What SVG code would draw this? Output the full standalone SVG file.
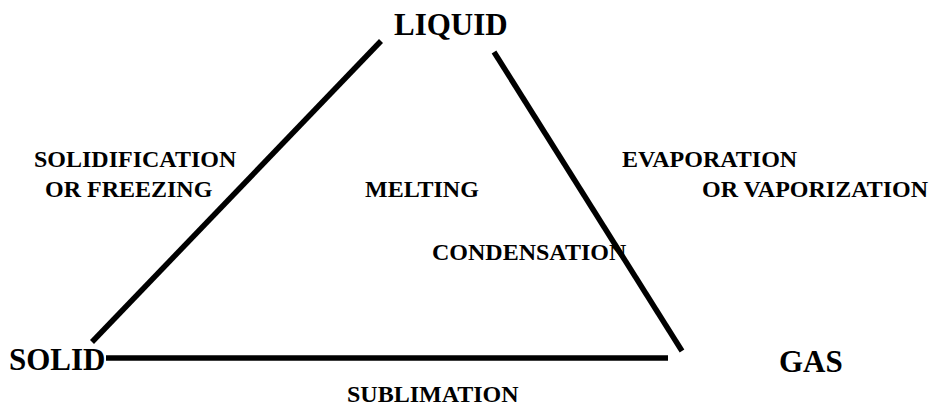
<svg xmlns="http://www.w3.org/2000/svg" width="931" height="406" viewBox="0 0 931 406">
<style>
text{font-family:"Liberation Serif","Times New Roman",serif;font-weight:bold;fill:#000}
.big{font-size:31px}
.sm{font-size:24px}
.edge{stroke:#000;stroke-width:5.5;fill:none}
</style>
<rect width="931" height="406" fill="#fff"/>
<g id="connectors">
<line class="edge" x1="381" y1="41" x2="92" y2="342"/>
<line class="edge" x1="494" y1="52" x2="682" y2="351"/>
<line class="edge" x1="106" y1="358" x2="668" y2="358"/>
</g>
<g id="liquid"><text class="big" x="394" y="35">LIQUID</text></g>
<g id="solid"><text class="big" x="9" y="370">SOLID</text></g>
<g id="gas"><text class="big" x="779" y="372">GAS</text></g>
<g id="label-solidification"><text class="sm" x="34" y="167">SOLIDIFICATION</text><text class="sm" x="45" y="197">OR FREEZING</text></g>
<g id="label-melting"><text class="sm" x="365" y="197">MELTING</text></g>
<g id="label-evaporation"><text class="sm" x="622" y="167">EVAPORATION</text><text class="sm" x="702" y="197">OR VAPORIZATION</text></g>
<g id="label-condensation"><text class="sm" x="432" y="260">CONDENSATION</text></g>
<g id="label-sublimation"><text class="sm" x="347" y="402">SUBLIMATION</text></g>
</svg>
